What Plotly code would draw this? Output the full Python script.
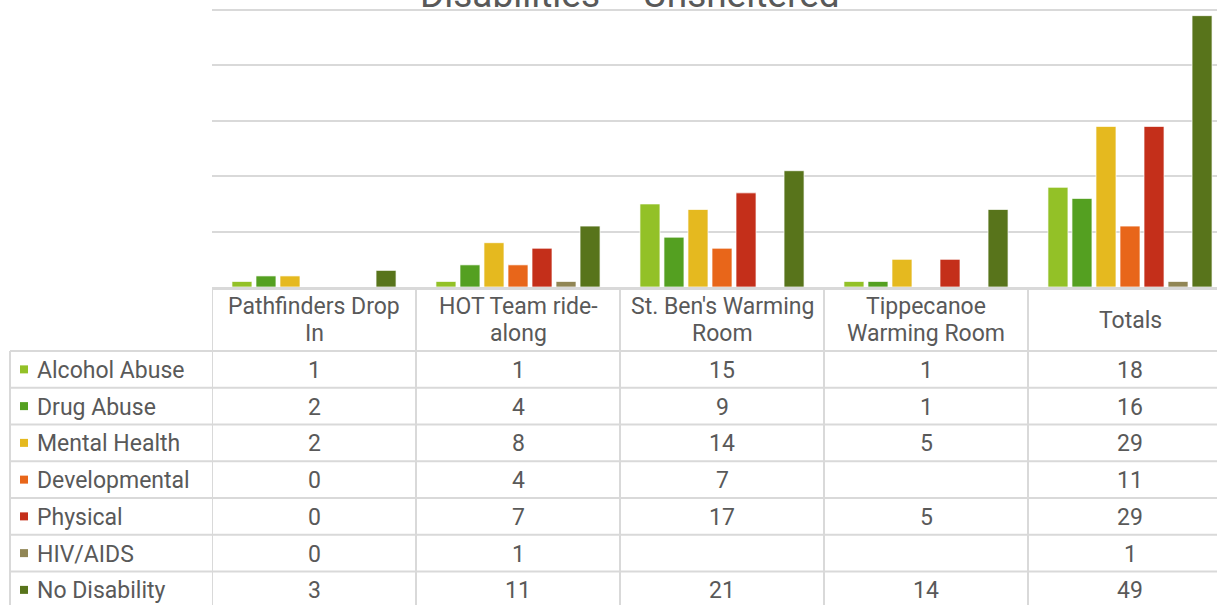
import plotly.graph_objects as go

# ---- data ----
categories = ["Pathfinders Drop In", "HOT Team ride-along", "St. Ben's Warming Room",
              "Tippecanoe Warming Room", "Totals"]
header_lines = [["Pathfinders Drop", "In"], ["HOT Team ride-", "along"],
                ["St. Ben's Warming", "Room"], ["Tippecanoe", "Warming Room"], ["Totals"]]
series_names = ["Alcohol Abuse", "Drug Abuse", "Mental Health", "Developmental",
                "Physical", "HIV/AIDS", "No Disability"]
alcohol = [1, 1, 15, 1, 18]
drug = [2, 4, 9, 1, 16]
mental = [2, 8, 14, 5, 29]
developmental = [0, 4, 7, None, 11]
physical = [0, 7, 17, 5, 29]
hiv = [0, 1, None, None, 1]
no_disability = [3, 11, 21, 14, 49]
series_values = [alcohol, drug, mental, developmental, physical, hiv, no_disability]
colors = ["#93C127", "#54A021", "#E5B91F", "#E8661A", "#C42F1A", "#918655", "#58741B"]
title_text = "Disabilities – Unsheltered"

# ---- layout constants ----
W, H = 1217, 605
ML, MT = 212, 9
PLOT_H = 278
MB = H - MT - PLOT_H
CAT_W = 204
PLOT_W = W - ML
x_max = -0.5 + PLOT_W / CAT_W
base_px = MT + PLOT_H

FONT = "Roboto, sans-serif"
TXT = "#595959"
LINE = "#d9d9d9"
FS = 23


def py(pix):
    return (base_px - pix) / PLOT_H


def px(pix):
    return (pix - ML) / PLOT_W


fig = go.Figure()
for name, vals, col in zip(series_names, series_values, colors):
    fig.add_trace(go.Bar(
        x=list(range(len(categories))), y=vals, name=name,
        marker=dict(color=col, line=dict(color="rgba(255,255,255,0.7)", width=1)),
        hoverinfo="skip"))

annotations = []
shapes = []

# title (cropped at top like in the source)
annotations.append(dict(text=title_text, xref="paper", yref="paper", x=px(630), y=py(18),
                        xanchor="center", yanchor="bottom", showarrow=False,
                        font=dict(family=FONT, size=37, color=TXT)))

# header
header_top = base_px
header_bot = 351
row_h = 36.75
for i, lines in enumerate(header_lines):
    n = len(lines)
    cy = (header_top + header_bot) / 2 + 1
    for k, ln in enumerate(lines):
        yy = cy + (k - (n - 1) / 2) * 26.5
        annotations.append(dict(text=ln, xref="x", yref="paper", x=i, y=py(yy),
                                xanchor="center", yanchor="middle", showarrow=False,
                                font=dict(family=FONT, size=FS, color=TXT)))

# rows
for r, (name, vals, col) in enumerate(zip(series_names, series_values, colors)):
    cy = header_bot + row_h * (r + 0.5)
    annotations.append(dict(text=name, xref="paper", yref="paper", x=px(35), y=py(cy + 1),
                            xanchor="left", yanchor="middle", showarrow=False,
                            font=dict(family=FONT, size=FS, color=TXT)))
    shapes.append(dict(type="rect", xref="paper", yref="paper",
                       x0=px(20), x1=px(28), y0=py(cy - 4), y1=py(cy + 4),
                       fillcolor=col, line=dict(width=0), layer="above"))
    for i, v in enumerate(vals):
        if v is None:
            continue
        annotations.append(dict(text=str(v), xref="x", yref="paper", x=i, y=py(cy + 1),
                                xanchor="center", yanchor="middle", showarrow=False,
                                font=dict(family=FONT, size=FS, color=TXT)))

# table lines
for i in range(len(categories) + 1):
    shapes.append(dict(type="line", xref="x", yref="paper", x0=i - 0.5, x1=i - 0.5,
                       y0=py(base_px), y1=py(H + 10), line=dict(color=LINE, width=2),
                       layer="above"))
shapes.append(dict(type="line", xref="paper", yref="paper", x0=px(10), x1=px(10),
                   y0=py(header_bot), y1=py(H + 10), line=dict(color=LINE, width=2)))
for k in range(len(series_names) + 1):
    yy = header_bot + row_h * k
    shapes.append(dict(type="line", xref="paper", yref="paper", x0=px(10), x1=1.05,
                       y0=py(yy), y1=py(yy), line=dict(color=LINE, width=2)))

fig.update_layout(
    width=W, height=H,
    margin=dict(l=ML, r=0, t=MT, b=MB, pad=0),
    paper_bgcolor="white", plot_bgcolor="white",
    barmode="group", bargap=0.176, bargroupgap=0.167,
    showlegend=False,
    annotations=annotations, shapes=shapes,
    xaxis=dict(range=[-0.5, x_max], showticklabels=False, showgrid=False, zeroline=False,
               showline=True, linecolor=LINE, linewidth=3, ticks=""),
    yaxis=dict(range=[0, 50.2], tickvals=[10, 20, 30, 40, 50], showticklabels=False,
               showgrid=True, gridcolor=LINE, gridwidth=1.5, zeroline=False, showline=False),
)

fig.write_html("out.html", config={"displayModeBar": False},
               post_script="document.body.style.margin='0px';document.body.style.overflow='hidden';")
